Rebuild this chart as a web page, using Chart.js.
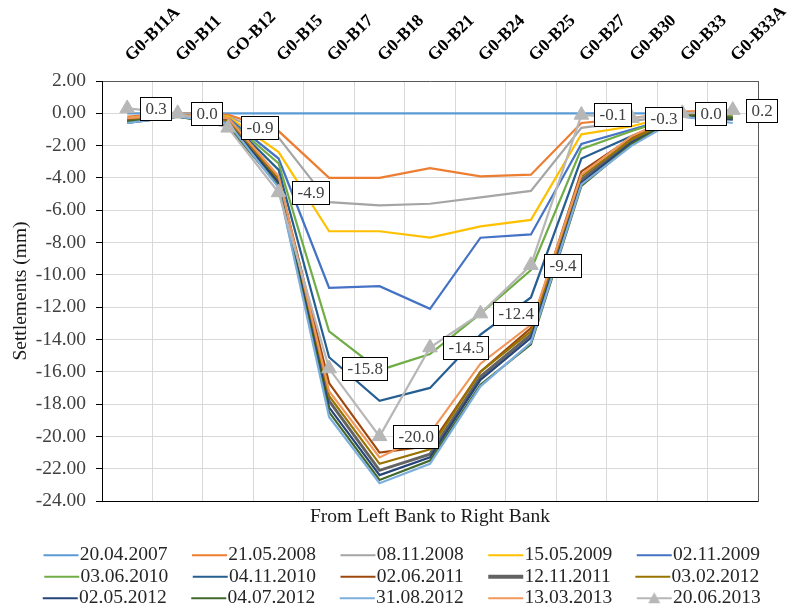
<!DOCTYPE html>
<html lang="en">
<head>
<meta charset="UTF-8">
<title>Settlements - Left Bank to Right Bank</title>
<script src="https://cdn.jsdelivr.net/npm/chart.js"></script>
<style>
  body { margin: 0; background: #ffffff; overflow: hidden; }
  #wrap { width: 790px; height: 610px; }
</style>
</head>
<body>
<div id="wrap"><canvas id="settlementChart"></canvas></div>
<script>
// benchmarks along the crest, left bank -> right bank
const stations = ['G0-B11A', 'G0-B11', 'GO-B12', 'G0-B15', 'G0-B17', 'G0-B18', 'G0-B21',
                  'G0-B24', 'G0-B25', 'G0-B27', 'G0-B30', 'G0-B33', 'G0-B33A'];

const surveyDates = ['20.04.2007', '21.05.2008', '08.11.2008', '15.05.2009', '02.11.2009',
                     '03.06.2010', '04.11.2010', '02.06.2011', '12.11.2011', '03.02.2012',
                     '02.05.2012', '04.07.2012', '31.08.2012', '13.03.2013', '20.06.2013'];

// settlement readings (mm), one array per survey
const s2007_04_20 = [0, 0, 0, 0, 0, 0, 0, 0, 0, 0, 0, 0, 0];
const s2008_05_21 = [-0.2, 0.0, -0.1, -1.1, -4.0, -4.0, -3.4, -3.9, -3.8, -0.6, -0.3, 0.1, 0.2];
const s2008_11_08 = [-0.3, 0.0, -0.2, -1.5, -5.5, -5.7, -5.6, -5.2, -4.8, -0.9, -0.5, 0.0, 0.0];
const s2009_05_15 = [-0.3, -0.1, -0.2, -2.4, -7.3, -7.3, -7.7, -7.0, -6.6, -1.3, -0.8, 0.0, -0.1];
const s2009_11_02 = [-0.4, -0.1, -0.3, -2.8, -10.8, -10.7, -12.1, -7.7, -7.5, -1.9, -1.0, -0.1, -0.2];
const s2010_06_03 = [-0.4, -0.1, -0.4, -3.1, -13.5, -15.9, -14.9, -12.4, -9.7, -2.2, -1.1, -0.1, -0.2];
const s2010_11_04 = [-0.5, -0.1, -0.4, -3.5, -15.1, -17.8, -17.0, -13.7, -11.4, -2.8, -1.4, -0.1, -0.3];
const s2011_06_02 = [-0.4, -0.1, -0.4, -4.0, -16.7, -21.0, -20.6, -16.0, -13.3, -3.6, -1.5, -0.1, -0.3];
const s2011_11_12 = [-0.5, -0.2, -0.5, -4.2, -17.8, -22.1, -21.1, -16.3, -13.7, -4.1, -1.7, -0.1, -0.3];
const s2012_02_03 = [-0.5, -0.1, -0.5, -4.1, -17.5, -21.7, -20.8, -16.0, -13.5, -3.9, -1.6, -0.1, -0.3];
const s2012_05_02 = [-0.6, -0.2, -0.6, -4.3, -18.2, -22.4, -21.3, -16.5, -13.9, -4.3, -1.8, -0.2, -0.4];
const s2012_07_04 = [-0.5, -0.2, -0.8, -4.5, -18.5, -22.7, -21.5, -16.8, -14.3, -4.5, -1.9, -0.1, -0.3];
const s2012_08_31 = [-0.6, -0.2, -0.6, -4.6, -18.8, -22.9, -21.7, -16.9, -14.2, -4.4, -2.0, -0.2, -0.6];
const s2013_03_13 = [-0.3, -0.1, -0.3, -3.9, -17.2, -21.3, -19.8, -15.5, -13.1, -3.8, -1.4, 0.0, 0.1];
const s2013_06_20 = [0.3, 0.0, -0.9, -4.9, -15.8, -20.0, -14.5, -12.4, -9.4, -0.1, -0.3, 0.0, 0.2];

const yMin = -24;
const yMax = 2;
const yStep = 2;

const settlementSeries = [s2007_04_20, s2008_05_21, s2008_11_08, s2009_05_15, s2009_11_02,
                          s2010_06_03, s2010_11_04, s2011_06_02, s2011_11_12, s2012_02_03,
                          s2012_05_02, s2012_07_04, s2012_08_31, s2013_03_13, s2013_06_20];

const lineColors = ['#5B9BD5', '#ED7D31', '#A5A5A5', '#FFC000', '#4472C4',
                    '#70AD47', '#255E91', '#9E480E', '#636363', '#997300',
                    '#264478', '#43682B', '#7CAFDD', '#F1975A', '#B7B7B7'];
const lineWidths = [2.2, 2.2, 2.2, 2.2, 2.2, 2.2, 2.2, 2.2, 3, 2.2, 2.2, 2.2, 2.2, 2.2, 2.2];

const SERIF = "'Liberation Serif', 'Times New Roman', serif";
const lastIdx = surveyDates.length - 1;

Chart.defaults.font.family = SERIF;
Chart.defaults.color = '#404040';

// small line (and triangle) swatches for the legend
function legendIcon(i) {
    const c = document.createElement('canvas');
    c.width = 68;
    c.height = 16;
    const g = c.getContext('2d');
    g.strokeStyle = lineColors[i];
    g.lineWidth = i === 8 ? 4 : 2;
    g.beginPath();
    g.moveTo(32, 8);
    g.lineTo(67, 8);
    g.stroke();
    if (i === lastIdx) {
        g.fillStyle = lineColors[i];
        g.beginPath();
        g.moveTo(49.5, 2);
        g.lineTo(55.5, 13);
        g.lineTo(43.5, 13);
        g.closePath();
        g.fill();
    }
    return c;
}
const legendIcons = surveyDates.map((d, i) => legendIcon(i));

// boxed value labels next to the latest survey's markers
const valueBoxes = {
    id: 'valueBoxes',
    afterDatasetsDraw(chart) {
        const meta = chart.getDatasetMeta(lastIdx);
        const ctx = chart.ctx;
        ctx.save();
        ctx.font = "17px " + SERIF;
        ctx.textBaseline = 'middle';
        meta.data.forEach((pt, i) => {
            const txt = settlementSeries[lastIdx][i].toFixed(1);
            const w = Math.round(ctx.measureText(txt).width + 10);
            const h = 23;
            const left = Math.round(pt.x + 13);
            const top = Math.round(pt.y - h / 2);
            ctx.fillStyle = '#ffffff';
            ctx.fillRect(left, top, w, h);
            ctx.strokeStyle = '#000000';
            ctx.lineWidth = 1;
            ctx.strokeRect(left + 0.5, top + 0.5, w, h);
            ctx.fillStyle = '#404040';
            ctx.fillText(txt, left + 5.5, top + h / 2 + 1);
        });
        ctx.restore();
    }
};

new Chart(document.getElementById('settlementChart'), {
    type: 'line',
    data: {
        labels: stations,
        datasets: surveyDates.map((d, i) => ({
            label: d,
            data: settlementSeries[i],
            borderColor: lineColors[i],
            backgroundColor: lineColors[i],
            borderWidth: lineWidths[i],
            pointStyle: 'triangle',
            pointRadius: i === lastIdx ? 8.5 : 0,
            pointHoverRadius: i === lastIdx ? 8.5 : 0,
            pointBorderWidth: 1,
            tension: 0,
            order: surveyDates.length - i
        }))
    },
    options: {
        responsive: true,
        maintainAspectRatio: false,
        animation: false,
        layout: { padding: { left: 0, right: 9, top: 0, bottom: -8 } },
        plugins: {
            tooltip: { enabled: false },
            legend: {
                position: 'bottom',
                labels: {
                    usePointStyle: true,
                    pointStyleWidth: 49,
                    boxHeight: 16,
                    padding: 2,
                    color: '#262626',
                    font: { size: 19.5 },
                    sort: (a, b) => a.datasetIndex - b.datasetIndex,
                    generateLabels: chart =>
                        Chart.defaults.plugins.legend.labels.generateLabels(chart).map(item =>
                            Object.assign(item, { pointStyle: legendIcons[item.datasetIndex], rotation: 0 }))
                }
            }
        },
        scales: {
            x: {
                position: 'top',
                offset: true,
                grid: { offset: true, color: '#D9D9D9', drawTicks: false },
                border: { color: '#595959' },
                ticks: {
                    minRotation: 45,
                    maxRotation: 45,
                    autoSkip: false,
                    padding: 15,
                    labelOffset: 16,
                    color: '#000000',
                    font: { size: 17.5, weight: 'bold' }
                },
                afterFit: s => {
                    s.height = 81;
                    // rotated labels may hang past the plot edges; keep the plot width fixed
                    s.paddingLeft = 0;
                    s.paddingRight = 0;
                }
            },
            x2: {
                type: 'category',
                position: 'bottom',
                offset: true,
                labels: stations,
                grid: { display: false, drawTicks: false },
                ticks: { display: false },
                border: { color: '#000000' },
                title: {
                    display: true,
                    text: 'From Left Bank to Right Bank',
                    color: '#1a1a1a',
                    font: { size: 19.5 },
                    padding: { top: 0, bottom: 15 }
                },
                afterFit: s => {
                    s.height = 42.5;
                    s.paddingLeft = 0;
                    s.paddingRight = 0;
                }
            },
            y: {
                min: yMin,
                max: yMax,
                ticks: {
                    stepSize: yStep,
                    padding: 10,
                    font: { size: 19.5 },
                    callback: v => Number(v).toFixed(2)
                },
                grid: { color: '#D9D9D9', tickColor: '#000000', tickLength: 6 },
                border: { color: '#000000' },
                title: {
                    display: true,
                    text: 'Settlements (mm)',
                    color: '#1a1a1a',
                    font: { size: 19.5 },
                    padding: { top: 9, bottom: 0 }
                },
                afterFit: s => { s.width = 102; }
            },
            y2: {
                position: 'right',
                min: yMin,
                max: yMax,
                ticks: { display: false },
                grid: { display: false, drawTicks: false },
                border: { color: '#595959' },
                afterFit: s => { s.width = 23; }
            }
        }
    },
    plugins: [valueBoxes]
});
</script>
</body>
</html>
